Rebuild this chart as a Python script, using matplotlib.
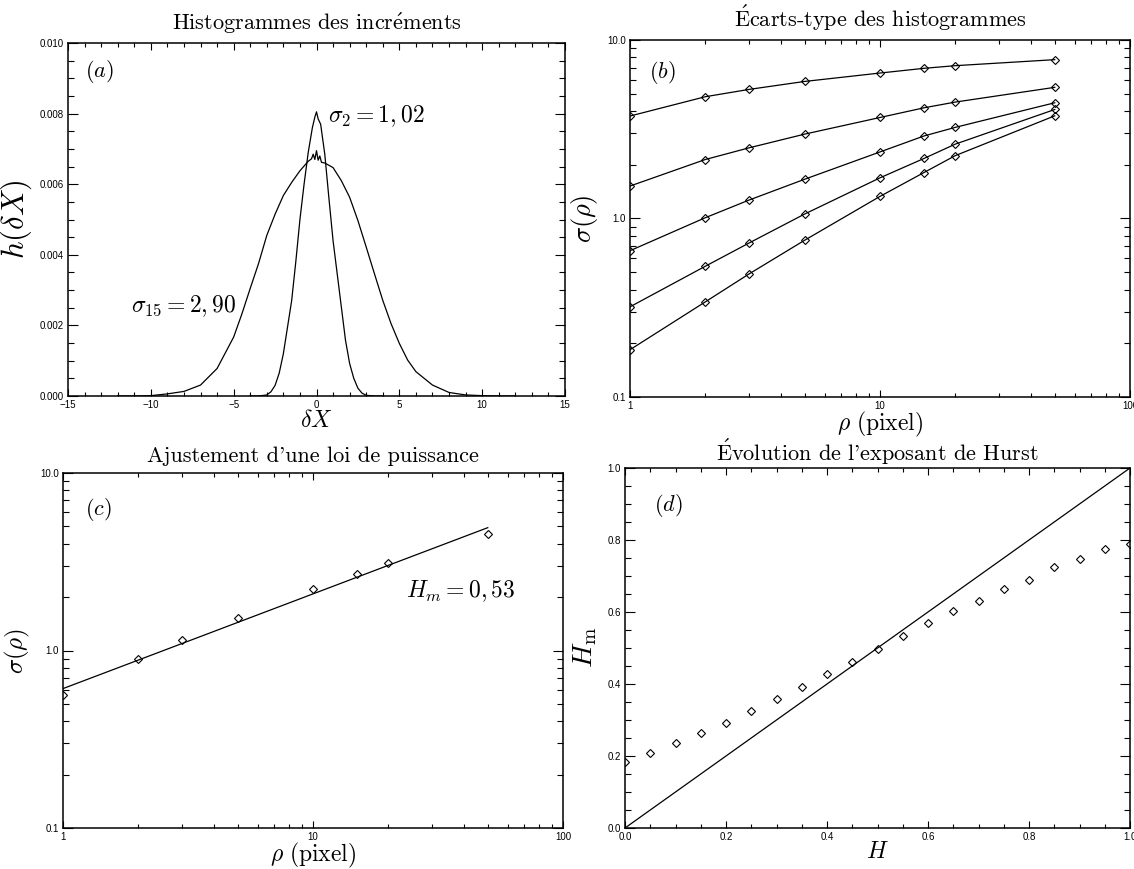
import matplotlib
matplotlib.use("Agg")
import matplotlib.pyplot as plt
from matplotlib.ticker import (FixedLocator, FixedFormatter, MultipleLocator,
                               FormatStrFormatter, LogLocator, NullFormatter)

plt.rcParams['mathtext.fontset'] = 'cm'
plt.rcParams['font.family'] = ['Liberation Sans', 'DejaVu Sans']

# (a) histograms of increments, h(dX) in units of 1e-3
wide_x = [-12, -11, -10, -9, -8, -7, -6, -5, -4.5, -4, -3.5, -3, -2.5, -2,
          -1.5, -1, -0.5, -0.3, -0.2, -0.1, 0, 0.1, 0.2, 0.3, 0.5, 1, 1.5,
          2, 2.5, 3, 3.5, 4, 4.5, 5, 5.5, 6, 7, 8, 9, 10, 11, 12]
wide_h = [0.0, 0.0, 0.01, 0.06, 0.13, 0.31, 0.78, 1.67, 2.33, 3.05, 3.75,
          4.55, 5.15, 5.68, 6.05, 6.38, 6.65, 6.72, 6.85, 6.70, 6.95, 6.68,
          6.80, 6.62, 6.60, 6.47, 6.10, 5.63, 4.97, 4.22, 3.46, 2.71, 2.05,
          1.49, 1.02, 0.69, 0.31, 0.10, 0.03, 0.01, 0.0, 0.0]
narrow_x = [-4, -3.5, -3, -2.75, -2.5, -2.25, -2, -1.75, -1.5, -1.25, -1,
            -0.75, -0.5, -0.25, -0.1, 0, 0.1, 0.25, 0.5, 0.75, 1, 1.25, 1.5,
            1.75, 2, 2.25, 2.5, 2.75, 3, 3.5, 4]
narrow_h = [0.0, 0.0, 0.03, 0.12, 0.3, 0.65, 1.2, 1.95, 2.7, 3.8, 5.0, 6.0,
            6.9, 7.6, 7.9, 8.05, 7.85, 7.7, 6.85, 5.6, 4.4, 3.46, 2.52, 1.58,
            0.92, 0.5, 0.22, 0.08, 0.02, 0.0, 0.0]

# (b) standard deviations vs lag
rho = [1, 2, 3, 5, 10, 15, 20, 50]
sigma_b = [
    [3.75, 4.81, 5.29, 5.86, 6.53, 6.94, 7.18, 7.76],
    [1.52, 2.14, 2.49, 2.97, 3.68, 4.17, 4.49, 5.43],
    [0.66, 1.01, 1.27, 1.66, 2.36, 2.90, 3.24, 4.45],
    [0.32, 0.54, 0.73, 1.06, 1.69, 2.17, 2.61, 4.08],
    [0.184, 0.341, 0.49, 0.756, 1.33, 1.81, 2.25, 3.76],
]

# (c) power-law fit
sigma_c = [0.56, 0.89, 1.14, 1.52, 2.21, 2.69, 3.10, 4.52]
fit_rho = [1, 50]
fit_sigma = [0.61, 4.92]

# (d) measured Hurst exponent vs true
H = [0.0, 0.05, 0.10, 0.15, 0.20, 0.25, 0.30, 0.35, 0.40, 0.45, 0.50,
     0.55, 0.60, 0.65, 0.70, 0.75, 0.80, 0.85, 0.90, 0.95, 1.0]
H_m = [0.184, 0.209, 0.235, 0.264, 0.293, 0.326, 0.357, 0.392, 0.427,
       0.462, 0.497, 0.532, 0.569, 0.604, 0.631, 0.663, 0.690, 0.724,
       0.746, 0.776, 0.790]
diag = [0.0, 1.0]

W, Hpx = 1134, 869
fig = plt.figure(figsize=(W / 100, Hpx / 100), dpi=100)


def rect(l, r, t, b):
    return [l / W, 1 - b / Hpx, (r - l) / W, (b - t) / Hpx]


serif = ['cmr10', 'DejaVu Serif']
TFS, XFS, PFS, AFS = 16, 17, 16, 17
lw = 0.9
mk = dict(marker='D', markersize=4, mfc='none', mec='black', mew=0.8)


def style(ax):
    ax.tick_params(which='both', direction='in', top=True, right=True,
                   labelsize=7, width=0.8, pad=3)
    ax.tick_params(axis='y', which='major', length=7)
    ax.tick_params(axis='y', which='minor', length=4)
    ax.tick_params(axis='x', which='major', length=5)
    ax.tick_params(axis='x', which='minor', length=3)
    for s in ax.spines.values():
        s.set_linewidth(1.1)


def log_axes(ax):
    ax.set_xscale('log')
    ax.set_yscale('log')
    ax.set_xlim(1, 100)
    ax.set_ylim(0.1, 10)
    ax.xaxis.set_major_locator(FixedLocator([1, 10, 100]))
    ax.xaxis.set_major_formatter(FixedFormatter(['1', '10', '100']))
    ax.yaxis.set_major_locator(FixedLocator([0.1, 1, 10]))
    ax.yaxis.set_major_formatter(FixedFormatter(['0.1', '1.0', '10.0']))
    for a in (ax.xaxis, ax.yaxis):
        a.set_minor_locator(LogLocator(base=10, subs=range(2, 10)))
        a.set_minor_formatter(NullFormatter())


# (a)
ax = fig.add_axes(rect(68, 565, 43, 396))
ax.plot(wide_x, [v * 1e-3 for v in wide_h], color='black', lw=lw)
ax.plot(narrow_x, [v * 1e-3 for v in narrow_h], color='black', lw=lw)
ax.set_xlim(-15, 15)
ax.set_ylim(0, 0.010)
ax.xaxis.set_major_locator(MultipleLocator(5))
ax.xaxis.set_minor_locator(MultipleLocator(1))
ax.yaxis.set_major_locator(MultipleLocator(0.002))
ax.yaxis.set_minor_locator(MultipleLocator(0.0005))
ax.yaxis.set_major_formatter(FormatStrFormatter('%.3f'))
style(ax)
ax.set_title(r'Histogrammes des incr$\acute{\rm e}$ments', family=serif,
             fontsize=TFS, pad=9)
ax.set_xlabel(r'$\delta X$', fontsize=XFS, labelpad=0)
ax.set_ylabel(r'$h(\delta X)$', fontsize=22, labelpad=4)
ax.text(0.034, 0.918, r'$(a)$', transform=ax.transAxes, fontsize=PFS,
        va='center')
ax.text(0.7, 0.00793, r'$\sigma_2 = 1,02$', fontsize=AFS, va='center')
ax.text(-11.2, 0.00255, r'$\sigma_{15} = 2,90$', fontsize=AFS, va='center')

# (b)
ax = fig.add_axes(rect(630, 1130, 40, 397))
for s in sigma_b:
    ax.plot(rho, s, color='black', lw=lw, **mk)
log_axes(ax)
style(ax)
ax.set_title(r'$\acute{\rm E}$carts-type des histogrammes', family=serif,
             fontsize=TFS, pad=9)
ax.set_xlabel(r'$\rho\ (\mathrm{pixel})$', fontsize=XFS, labelpad=-1)
ax.set_ylabel(r'$\sigma(\rho)$', fontsize=19, labelpad=5)
ax.text(0.038, 0.91, r'$(b)$', transform=ax.transAxes, fontsize=PFS,
        va='center')

# (c)
ax = fig.add_axes(rect(63, 563, 473, 828))
ax.plot(rho, sigma_c, ls='none', **mk)
ax.plot(fit_rho, fit_sigma, color='black', lw=lw)
log_axes(ax)
style(ax)
ax.set_title("Ajustement d'une loi de puissance", family=serif,
             fontsize=TFS, pad=8)
ax.set_xlabel(r'$\rho\ (\mathrm{pixel})$', fontsize=XFS, labelpad=-1)
ax.set_ylabel(r'$\sigma(\rho)$', fontsize=18, labelpad=6)
ax.text(0.044, 0.896, r'$(c)$', transform=ax.transAxes, fontsize=PFS,
        va='center')
ax.text(23.5, 2.15, r'$H_m = 0,53$', fontsize=AFS, va='center')

# (d)
ax = fig.add_axes(rect(625, 1130, 468, 828))
ax.plot(H, H_m, ls='none', **mk)
ax.plot(diag, diag, color='black', lw=lw)
ax.set_xlim(0, 1)
ax.set_ylim(0, 1)
for a in (ax.xaxis, ax.yaxis):
    a.set_major_locator(MultipleLocator(0.2))
    a.set_minor_locator(MultipleLocator(0.05))
    a.set_major_formatter(FormatStrFormatter('%.1f'))
style(ax)
ax.set_title(r"$\acute{\rm E}$volution de l'exposant de Hurst", family=serif,
             fontsize=TFS, pad=5)
ax.set_xlabel(r'$H$', fontsize=XFS, labelpad=-1)
ax.set_ylabel(r'$H_{\rm m}$', fontsize=20, labelpad=6)
ax.text(0.057, 0.897, r'$(d)$', transform=ax.transAxes, fontsize=PFS,
        va='center')

fig.savefig('out.png', dpi=100)
